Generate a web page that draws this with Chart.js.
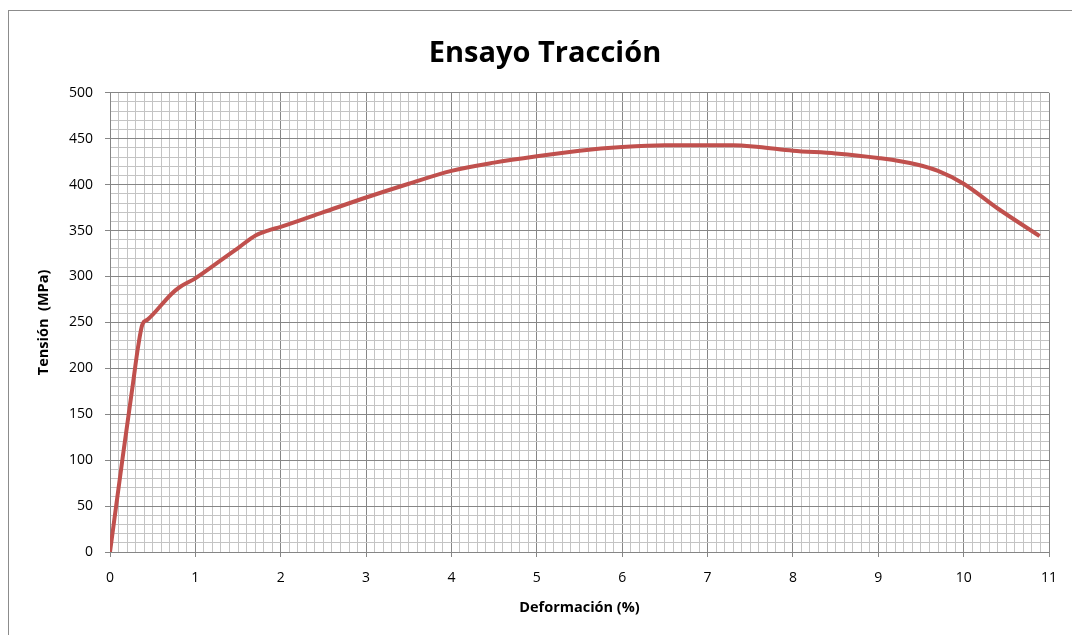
<!DOCTYPE html>
<html>
<head>
<meta charset="utf-8">
<script src="https://cdn.jsdelivr.net/npm/chart.js@4/dist/chart.umd.min.js"></script>
<style>
  html, body { margin:0; padding:0; background:#fff; }
  #wrap { position:relative; width:1072px; height:635px; overflow:hidden; }
  #frame { position:absolute; left:8px; top:10px; width:1100px; height:700px; border:1px solid #8c8c8c; box-sizing:border-box; }
  canvas { position:absolute; left:0; top:0; }
</style>
</head>
<body>
<div id="wrap">
  <div id="frame"></div>
  <canvas id="chart" width="1072" height="635"></canvas>
</div>
<script>
// values
const strain = [0, 0.15, 0.27, 0.33, 0.38, 0.44, 0.72, 0.81, 1.0, 1.26, 1.5, 1.71, 1.85, 2.0, 2.5, 3.0, 3.5, 4.0, 4.5, 5.0, 5.5, 6.0, 6.5, 7.0, 7.3, 7.6, 8.0, 8.5, 9.0, 9.45, 9.7, 10.0, 10.4, 10.89];
const stress = [0, 104, 184, 224, 248, 253, 281, 288, 298, 315, 331, 345, 350, 354, 370, 386, 401, 415, 424, 431, 437, 441, 443, 443, 443, 441, 437, 434, 429, 422, 415, 401, 374, 344];

const title = 'Ensayo Tracción';
const xTitle = 'Deformación (%)';
const yTitle = 'Tensión  (MPa)';

const points = strain.map((x, i) => ({ x: x, y: stress[i] }));

function isMajor(v, step){
  const r = v / step;
  return Math.abs(r - Math.round(r)) < 1e-6;
}

const FONT = 'Open Sans';
const LEFT_PAD = 41; // shifts the title centre to match the frame

new Chart(document.getElementById('chart').getContext('2d'), {
  type: 'line',
  data: {
    datasets: [{
      data: points,
      borderColor: '#C0504D',
      borderWidth: 4,
      pointRadius: 0,
      fill: false,
      cubicInterpolationMode: 'monotone'
    }]
  },
  options: {
    responsive: false,
    animation: false,
    layout: { padding: { left: LEFT_PAD, right: 23, top: 10, bottom: 0 } },
    plugins: {
      legend: { display: false },
      tooltip: { enabled: false },
      title: {
        display: true,
        text: title,
        color: '#000',
        font: { family: FONT, size: 29, weight: 'bold' },
        padding: { top: 26, bottom: 22 }
      }
    },
    scales: {
      x: {
        type: 'linear',
        min: 0, max: 11,
        afterFit: s => { s.height = 83; },
        ticks: {
          stepSize: 0.1,
          autoSkip: false,
          maxRotation: 0,
          color: '#000',
          padding: 13,
          font: { family: FONT, size: 14 },
          callback: v => isMajor(v, 1) ? String(Math.round(v)) : ''
        },
        grid: {
          color: c => isMajor(c.tick.value, 1) ? '#868686' : '#c4c4c4',
          tickColor: c => isMajor(c.tick.value, 1) ? '#868686' : 'rgba(0,0,0,0)',
          tickLength: 5
        },
        border: { color: '#868686' },
        title: {
          display: true,
          text: xTitle,
          color: '#000',
          font: { family: FONT, size: 14.5, weight: 'bold' },
          padding: { top: 0, bottom: 18 }
        }
      },
      y: {
        min: 0, max: 500,
        afterFit: s => { s.width = 110 - LEFT_PAD; },
        ticks: {
          stepSize: 10,
          autoSkip: false,
          color: '#000',
          padding: 12,
          font: { family: FONT, size: 14 },
          callback: v => isMajor(v, 50) ? String(Math.round(v)) : ''
        },
        grid: {
          color: c => isMajor(c.tick.value, 50) ? '#868686' : '#c4c4c4',
          tickColor: c => isMajor(c.tick.value, 50) ? '#868686' : 'rgba(0,0,0,0)',
          tickLength: 5
        },
        border: { color: '#868686' },
        title: {
          display: true,
          text: yTitle,
          color: '#000',
          font: { family: FONT, size: 14.5, weight: 'bold' },
          padding: { top: -6, bottom: 0 }
        }
      }
    }
  }
});
</script>
</body>
</html>
